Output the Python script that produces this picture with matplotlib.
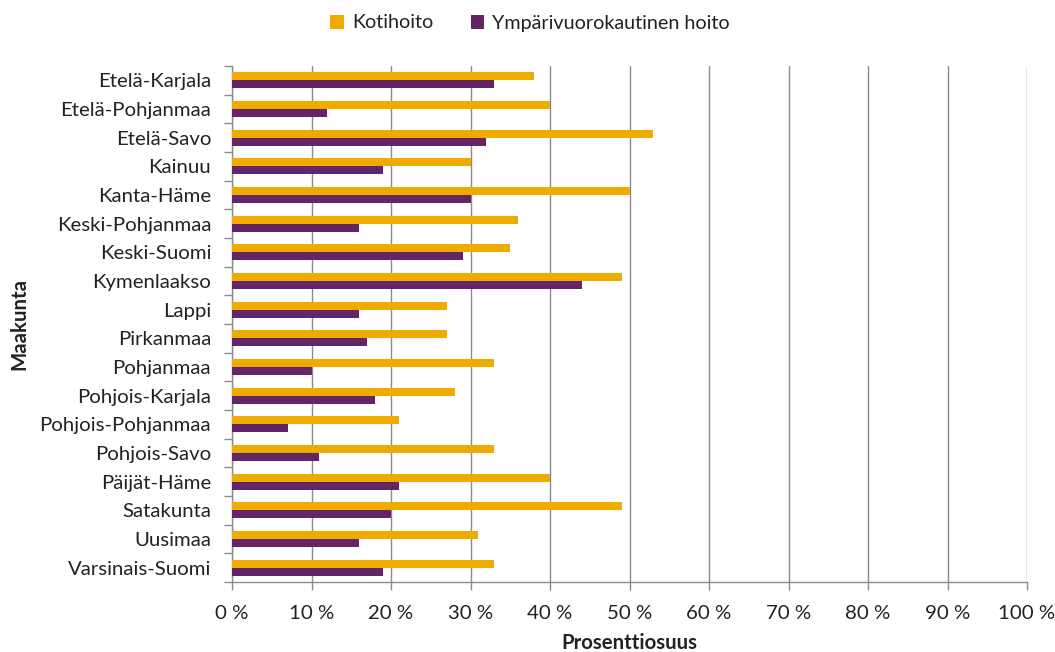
import matplotlib
matplotlib.use("Agg")
import matplotlib.pyplot as plt
import numpy as np
from matplotlib.ticker import FuncFormatter, MultipleLocator

plt.rcParams['font.family'] = ['Lato', 'DejaVu Sans']

regions = ["Etelä-Karjala", "Etelä-Pohjanmaa", "Etelä-Savo", "Kainuu", "Kanta-Häme",
           "Keski-Pohjanmaa", "Keski-Suomi", "Kymenlaakso", "Lappi", "Pirkanmaa",
           "Pohjanmaa", "Pohjois-Karjala", "Pohjois-Pohjanmaa", "Pohjois-Savo",
           "Päijät-Häme", "Satakunta", "Uusimaa", "Varsinais-Suomi"]
kotihoito = [38, 40, 53, 30, 50, 36, 35, 49, 27, 27, 33, 28, 21, 33, 40, 49, 31, 33]
ymparivuorokautinen = [33, 12, 32, 19, 30, 16, 29, 44, 16, 17, 10, 18, 7, 11, 21, 20, 16, 19]
series_names = ["Kotihoito", "Ympärivuorokautinen hoito"]
xlabel = "Prosenttiosuus"
ylabel = "Maakunta"

c_orange = "#F0AB00"
c_purple = "#632567"
grid_c = "#8C8C8C"
text_c = "#222222"
fs = 14.7

fig = plt.figure(figsize=(10.55, 6.52), dpi=100)
ax = fig.add_axes([232/1055, 1-582/652, (1027-232)/1055, (582-66)/652])

y = np.arange(len(regions))
h = 0.28
ax.barh(y - h/2, kotihoito, height=h, color=c_orange, label=series_names[0], zorder=3)
ax.barh(y + h/2, ymparivuorokautinen, height=h, color=c_purple, label=series_names[1], zorder=3)

ax.set_xlim(0, 100)
ax.set_ylim(len(regions) - 0.5, -0.5)
ax.xaxis.set_major_locator(MultipleLocator(10))
ax.xaxis.set_major_formatter(FuncFormatter(lambda v, p: f"{int(round(v))} %"))
ax.set_yticks(y)
ax.set_yticklabels(regions)
ax.set_yticks(np.arange(len(regions) + 1) - 0.5, minor=True)
ax.tick_params(axis='y', which='major', length=0, pad=15, labelsize=fs, labelcolor=text_c)
ax.tick_params(axis='y', which='minor', length=6, width=1, color=grid_c, direction='out')
ax.tick_params(axis='x', which='major', length=6, width=1, color=grid_c, direction='out',
               pad=10.5, labelsize=fs, labelcolor=text_c)

ax.grid(axis='x', color=grid_c, linewidth=1, zorder=0)
ax.set_axisbelow(True)
for s in ['top', 'right']:
    ax.spines[s].set_visible(False)
for s in ['left', 'bottom']:
    ax.spines[s].set_color(grid_c)
    ax.spines[s].set_linewidth(1)

ax.set_xlabel(xlabel, fontsize=fs, fontweight='bold', color=text_c)
ax.xaxis.set_label_coords(0.5, (582 - 633) / 516)
ax.set_ylabel(ylabel, fontsize=fs, fontweight='bold', color=text_c)
ax.yaxis.set_label_coords(-0.255, 0.5)

leg = fig.legend(loc='center', bbox_to_anchor=(530/1055, 1-23/652), ncol=2, frameon=False,
                 fontsize=14.2, handlelength=0.7, handleheight=0.7, handletextpad=0.4,
                 columnspacing=1.9)
for t in leg.get_texts():
    t.set_color(text_c)

fig.savefig("out.png", dpi=100)
